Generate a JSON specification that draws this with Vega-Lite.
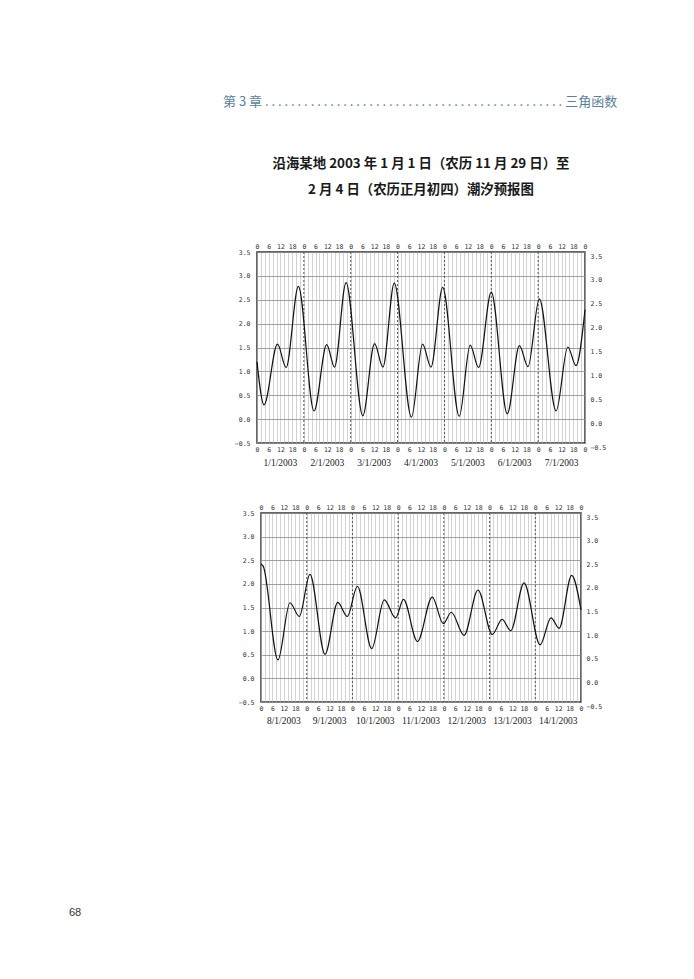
{
  "$schema": "https://vega.github.io/schema/vega-lite/v6.json",
  "background": "white",
  "padding": {"left": 68, "top": 95, "right": 0, "bottom": 0},
  "title": {
    "text": "第 3 章   . . . . . . . . . . . . . . . . . . . . . . . . . . . . . . . . . . . . . . . . . . . . . .   三角函数",
    "anchor": "start",
    "frame": "group",
    "dx": -34,
    "offset": 47,
    "font": "Noto Sans CJK SC",
    "fontSize": 13,
    "fontWeight": "normal",
    "color": "#5b7f9a"
  },
  "bounds": "flush",
  "center": true,
  "spacing": 70,
  "datasets": {
    "tide1": [
      {"hour": 0, "level": 1.2}, {"hour": 3.6, "level": 0.3}, {"hour": 10.5, "level": 1.57}, {"hour": 14.9, "level": 1.08},
      {"hour": 21.2, "level": 2.78}, {"hour": 29.2, "level": 0.17}, {"hour": 35.7, "level": 1.56}, {"hour": 39.7, "level": 1.09},
      {"hour": 45.6, "level": 2.86}, {"hour": 54.2, "level": 0.07}, {"hour": 60.2, "level": 1.58}, {"hour": 64.5, "level": 1.09},
      {"hour": 70.3, "level": 2.85}, {"hour": 79.1, "level": 0.04}, {"hour": 84.8, "level": 1.57}, {"hour": 89.1, "level": 1.09},
      {"hour": 95.1, "level": 2.76}, {"hour": 103.6, "level": 0.06}, {"hour": 109.2, "level": 1.55}, {"hour": 113.5, "level": 1.08},
      {"hour": 120, "level": 2.66}, {"hour": 128.2, "level": 0.11}, {"hour": 134.4, "level": 1.54}, {"hour": 138.8, "level": 1.1},
      {"hour": 144.6, "level": 2.52}, {"hour": 153.2, "level": 0.17}, {"hour": 159.2, "level": 1.51}, {"hour": 163.4, "level": 1.12},
      {"hour": 168, "level": 2.29}
    ],
    "tide2": [
      {"hour": 0, "level": 2.42}, {"hour": 1.2, "level": 2.37}, {"hour": 8.9, "level": 0.39}, {"hour": 15.2, "level": 1.6}, {"hour": 20.1, "level": 1.31},
      {"hour": 25.7, "level": 2.2}, {"hour": 33.6, "level": 0.51}, {"hour": 40.3, "level": 1.61}, {"hour": 45.3, "level": 1.31},
      {"hour": 50.6, "level": 1.95}, {"hour": 58.1, "level": 0.63}, {"hour": 64.7, "level": 1.66}, {"hour": 70.7, "level": 1.28},
      {"hour": 74.8, "level": 1.67}, {"hour": 82.1, "level": 0.78}, {"hour": 89.9, "level": 1.72}, {"hour": 95.7, "level": 1.16},
      {"hour": 99.9, "level": 1.4}, {"hour": 106.6, "level": 0.91}, {"hour": 113.9, "level": 1.87}, {"hour": 121.4, "level": 0.93},
      {"hour": 126.6, "level": 1.25}, {"hour": 131.1, "level": 1.01}, {"hour": 138.1, "level": 2.02}, {"hour": 146.5, "level": 0.71},
      {"hour": 152.3, "level": 1.28}, {"hour": 156.5, "level": 1.06}, {"hour": 163.1, "level": 2.18}, {"hour": 168, "level": 1.45}
    ],
    "days": [
      {"hour": 24}, {"hour": 48}, {"hour": 72}, {"hour": 96}, {"hour": 120}, {"hour": 144}
    ],
    "dates1": [
      {"hour": 12, "date": "1/1/2003"}, {"hour": 36, "date": "2/1/2003"}, {"hour": 60, "date": "3/1/2003"},
      {"hour": 84, "date": "4/1/2003"}, {"hour": 108, "date": "5/1/2003"}, {"hour": 132, "date": "6/1/2003"},
      {"hour": 156, "date": "7/1/2003"}
    ],
    "dates2": [
      {"hour": 12, "date": "8/1/2003"}, {"hour": 36, "date": "9/1/2003"}, {"hour": 60, "date": "10/1/2003"},
      {"hour": 84, "date": "11/1/2003"}, {"hour": 108, "date": "12/1/2003"}, {"hour": 132, "date": "13/1/2003"},
      {"hour": 156, "date": "14/1/2003"}
    ]
  },
  "vconcat": [
    {
      "width": 328,
      "height": 191,
      "title": {
        "text": ["沿海某地 2003 年 1 月 1 日（农历 11 月 29 日）至", "2 月 4 日（农历正月初四）潮汐预报图"],
        "font": "Noto Sans CJK SC",
        "fontSize": 13.4,
        "fontWeight": "bold",
        "lineHeight": 26,
        "color": "#1a1a1a",
        "anchor": "middle",
        "offset": 47
      },
      "layer": [
        {
          "data": {"name": "days"},
          "mark": {"type": "rule", "color": "#555", "strokeDash": [2, 2], "strokeWidth": 1},
          "encoding": {
            "x": {"field": "hour", "type": "quantitative", "scale": {"domain": [0, 168], "nice": false, "zero": false},
              "axis": {"orient": "bottom", "values": [0,2,4,6,8,10,12,14,16,18,20,22,24,26,28,30,32,34,36,38,40,42,44,46,48,50,52,54,56,58,60,62,64,66,68,70,72,74,76,78,80,82,84,86,88,90,92,94,96,98,100,102,104,106,108,110,112,114,116,118,120,122,124,126,128,130,132,134,136,138,140,142,144,146,148,150,152,154,156,158,160,162,164,166,168],
                "labelExpr": "datum.value % 6 == 0 ? '' + (datum.value % 24) : ''",
                "grid": true, "gridColor": "#b5b5b5", "gridWidth": 0.6, "title": null, "labelPadding": 3}}
          }
        },
        {
          "data": {"name": "tide1"},
          "mark": {"type": "line", "interpolate": "monotone", "color": "#111", "strokeWidth": 1.2},
          "encoding": {
            "x": {"field": "hour", "type": "quantitative", "scale": {"domain": [0, 168], "nice": false, "zero": false},
              "axis": {"orient": "top", "values": [0,6,12,18,24,30,36,42,48,54,60,66,72,78,84,90,96,102,108,114,120,126,132,138,144,150,156,162,168],
                "labelExpr": "'' + (datum.value % 24)", "grid": false, "title": null, "labelPadding": 3}},
            "y": {"field": "level", "type": "quantitative", "scale": {"domain": [-0.5, 3.5], "nice": false, "zero": false},
              "axis": {"orient": "left", "values": [-0.5, 0, 0.5, 1, 1.5, 2, 2.5, 3, 3.5], "format": ".1f", "grid": true, "gridColor": "#8a8a8a", "gridWidth": 0.8, "title": null, "labelPadding": 7}}
          }
        },
        {
          "data": {"name": "dates1"},
          "mark": {"type": "text", "font": "Liberation Serif", "fontSize": 9.5, "color": "#222", "baseline": "middle"},
          "encoding": {
            "x": {"field": "hour", "type": "quantitative", "scale": {"domain": [0, 168], "nice": false, "zero": false}, "axis": null},
            "y": {"datum": -0.92, "type": "quantitative", "scale": {"domain": [-0.5, 3.5], "nice": false, "zero": false},
              "axis": {"orient": "right", "values": [-0.5, 0, 0.5, 1, 1.5, 2, 2.5, 3, 3.5], "format": ".1f", "grid": false, "title": null, "labelPadding": 5, "labelOffset": 4}},
            "text": {"field": "date"}
          }
        }
      ],
      "resolve": {"axis": {"x": "independent", "y": "independent"}}
    },
    {
      "width": 320,
      "height": 189,
      "title": {
        "text": "68",
        "orient": "bottom",
        "anchor": "start",
        "frame": "group",
        "dx": -192,
        "offset": 182,
        "font": "Liberation Sans",
        "fontSize": 11,
        "fontWeight": "normal",
        "color": "#333"
      },
      "layer": [
        {
          "data": {"name": "days"},
          "mark": {"type": "rule", "color": "#555", "strokeDash": [2, 2], "strokeWidth": 1},
          "encoding": {
            "x": {"field": "hour", "type": "quantitative", "scale": {"domain": [0, 168], "nice": false, "zero": false},
              "axis": {"orient": "bottom", "values": [0,2,4,6,8,10,12,14,16,18,20,22,24,26,28,30,32,34,36,38,40,42,44,46,48,50,52,54,56,58,60,62,64,66,68,70,72,74,76,78,80,82,84,86,88,90,92,94,96,98,100,102,104,106,108,110,112,114,116,118,120,122,124,126,128,130,132,134,136,138,140,142,144,146,148,150,152,154,156,158,160,162,164,166,168],
                "labelExpr": "datum.value % 6 == 0 ? '' + (datum.value % 24) : ''",
                "grid": true, "gridColor": "#b5b5b5", "gridWidth": 0.6, "title": null, "labelPadding": 3}}
          }
        },
        {
          "data": {"name": "tide2"},
          "mark": {"type": "line", "interpolate": "monotone", "color": "#111", "strokeWidth": 1.2},
          "encoding": {
            "x": {"field": "hour", "type": "quantitative", "scale": {"domain": [0, 168], "nice": false, "zero": false},
              "axis": {"orient": "top", "values": [0,6,12,18,24,30,36,42,48,54,60,66,72,78,84,90,96,102,108,114,120,126,132,138,144,150,156,162,168],
                "labelExpr": "'' + (datum.value % 24)", "grid": false, "title": null, "labelPadding": 3}},
            "y": {"field": "level", "type": "quantitative", "scale": {"domain": [-0.5, 3.5], "nice": false, "zero": false},
              "axis": {"orient": "left", "values": [-0.5, 0, 0.5, 1, 1.5, 2, 2.5, 3, 3.5], "format": ".1f", "grid": true, "gridColor": "#8a8a8a", "gridWidth": 0.8, "title": null, "labelPadding": 7}}
          }
        },
        {
          "data": {"name": "dates2"},
          "mark": {"type": "text", "font": "Liberation Serif", "fontSize": 9.5, "color": "#222", "baseline": "middle"},
          "encoding": {
            "x": {"field": "hour", "type": "quantitative", "scale": {"domain": [0, 168], "nice": false, "zero": false}, "axis": null},
            "y": {"datum": -0.9, "type": "quantitative", "scale": {"domain": [-0.5, 3.5], "nice": false, "zero": false},
              "axis": {"orient": "right", "values": [-0.5, 0, 0.5, 1, 1.5, 2, 2.5, 3, 3.5], "format": ".1f", "grid": false, "title": null, "labelPadding": 5, "labelOffset": 4}},
            "text": {"field": "date"}
          }
        }
      ],
      "resolve": {"axis": {"x": "independent", "y": "independent"}}
    }
  ],
  "config": {
    "view": {"stroke": "#333", "strokeWidth": 1.5},
    "axis": {
      "labelFont": "DejaVu Sans Mono",
      "labelFontSize": 6.5,
      "labelColor": "#333",
      "domain": false,
      "ticks": false,
      "labelFlush": false,
      "labelOverlap": false,
      "labelBound": false
    }
  }
}
